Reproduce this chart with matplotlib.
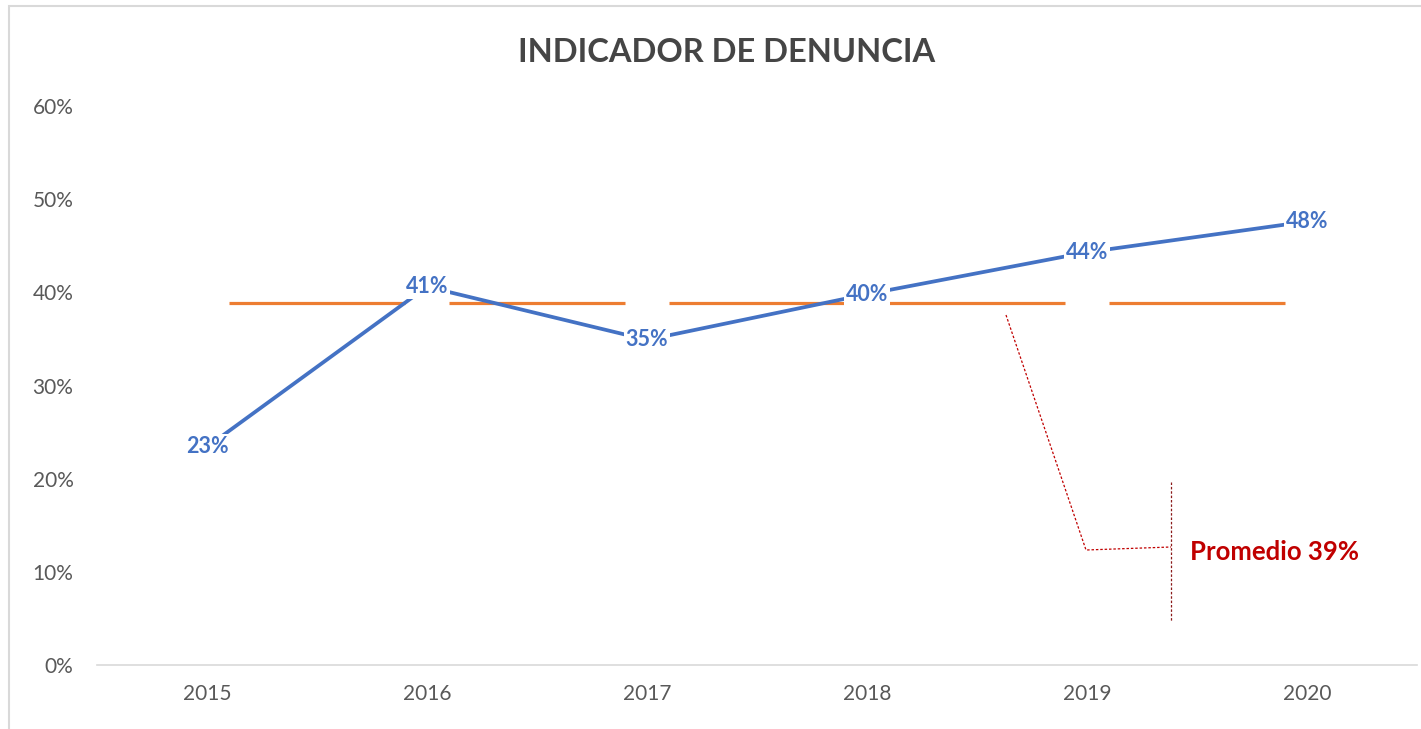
import matplotlib.pyplot as plt
from matplotlib.lines import Line2D
from matplotlib.patches import Rectangle

# datos
anios = ["2015", "2016", "2017", "2018", "2019", "2020"]
indicador = [0.234, 0.406, 0.349, 0.398, 0.443, 0.476]
etiquetas = ["23%", "41%", "35%", "40%", "44%", "48%"]
promedio = [0.389, 0.389, 0.389, 0.389, 0.389, 0.389]
y_ticks = [0, 0.1, 0.2, 0.3, 0.4, 0.5, 0.6]

AZUL = "#4472C4"
NARANJA = "#ED7D31"
GRIS = "#595959"
ROJO = "#C00000"

plt.rcParams['font.family'] = ['Lato', 'DejaVu Sans']

W, H = 1421, 729
fig = plt.figure(figsize=(W / 100, H / 100), dpi=100)


def px(x, y):
    return x / W, 1 - y / H


ax = fig.add_axes([97 / W, 1 - 665 / H, (1417 - 97) / W, (665 - 106) / H])
x = list(range(len(anios)))

# linea de promedio con huecos en cada categoria
for i in range(len(x) - 1):
    ax.plot([x[i] + 0.1, x[i + 1] - 0.1], [promedio[i], promedio[i + 1]],
            color=NARANJA, lw=2.3, solid_capstyle="butt", zorder=2)

ax.plot(x, indicador, color=AZUL, lw=2.7, zorder=3)

for xi, v, t in zip(x, indicador, etiquetas):
    ax.text(xi, v, t, ha="center", va="center", color=AZUL, fontsize=15.5,
            fontweight="bold", zorder=4,
            bbox=dict(boxstyle="square,pad=0.1", fc="white", ec="none"))

ax.set_xlim(-0.5, len(anios) - 0.5)
ax.set_ylim(0, 0.6)
ax.set_xticks(x)
ax.set_xticklabels(anios)
ax.set_yticks(y_ticks)
ax.set_yticklabels([f"{int(round(v * 100))}%" for v in y_ticks])
ax.tick_params(axis="both", length=0, colors=GRIS, labelsize=15)
ax.tick_params(axis="x", pad=14)
ax.tick_params(axis="y", pad=17)
for s in ["top", "right", "left"]:
    ax.spines[s].set_visible(False)
ax.spines["bottom"].set_color("#D9D9D9")
ax.spines["bottom"].set_linewidth(1.2)

# titulo
tx, ty = px(727, 52)
fig.text(tx, ty, "INDICADOR DE DENUNCIA", ha="center", va="center",
         fontsize=23.5, fontweight="bold", color="#454545")

# llamada del promedio
xs, ys = zip(*[px(1006, 315), px(1086, 550), px(1171, 547)])
fig.add_artist(Line2D(xs, ys, color=ROJO, lw=0.9, ls=(0, (2, 1.5))))
xs, ys = zip(*[px(1171, 482), px(1171, 621)])
fig.add_artist(Line2D(xs, ys, color="#8B1A1A", lw=0.9, ls=(0, (2, 1.5))))
lx, ly = px(1190, 552)
fig.text(lx, ly, "Promedio 39%", ha="left", va="center", fontsize=18.5,
         fontweight="bold", color=ROJO)

# marco del grafico
bx, by = px(9, 6)
fig.add_artist(Rectangle((bx, -0.05), 1.1, by + 0.05, transform=fig.transFigure,
                         fill=False, ec="#D9D9D9", lw=1.5))

fig.savefig("out.png", dpi=100)
